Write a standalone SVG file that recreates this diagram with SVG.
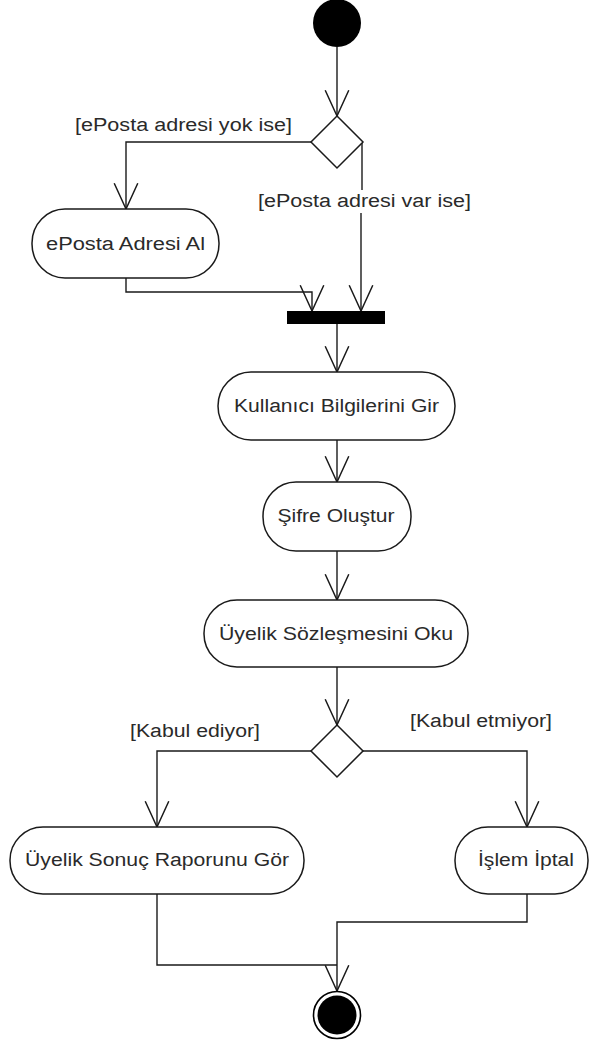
<svg xmlns="http://www.w3.org/2000/svg" width="590" height="1043" viewBox="0 0 590 1043">
<style>
.node{fill:#fff;stroke:#1a1a1a;stroke-width:1.5}
.lbl{font-family:"Liberation Sans",Arial,sans-serif;font-size:18px;fill:#2a2a2a;text-anchor:middle}
.edge{fill:none;stroke:#1a1a1a;stroke-width:1.4}
</style>
<defs>
<marker id="arr" markerUnits="userSpaceOnUse" markerWidth="30" markerHeight="30" viewBox="-26 -13 28 26" refX="0" refY="0" orient="auto">
<path d="M-24,-11 L0,0 L-24,11" fill="none" stroke="#1a1a1a" stroke-width="1.4"/>
</marker>
</defs>
<rect width="590" height="1043" fill="#fff"/>
<g id="connectors">
<path class="edge" d="M337,47 L337,116" marker-end="url(#arr)"/>
<path class="edge" d="M311,142 L126,142 L126,209" marker-end="url(#arr)"/>
<path class="edge" d="M362,142 L362,190"/>
<path class="edge" d="M361,213 L361,311" marker-end="url(#arr)"/>
<path class="edge" d="M126,278 L126,292 L312,292 L312,311" marker-end="url(#arr)"/>
<path class="edge" d="M337,324 L337,372" marker-end="url(#arr)"/>
<path class="edge" d="M337,440 L337,482" marker-end="url(#arr)"/>
<path class="edge" d="M337,551 L337,600" marker-end="url(#arr)"/>
<path class="edge" d="M337,667 L337,725" marker-end="url(#arr)"/>
<path class="edge" d="M311,751 L157,751 L157,827" marker-end="url(#arr)"/>
<path class="edge" d="M363,751 L527,751 L527,827" marker-end="url(#arr)"/>
<path class="edge" d="M157,894 L157,965 L337,965"/>
<path class="edge" d="M527,894 L527,922 L337,922 L337,991" marker-end="url(#arr)"/>
<text class="lbl" x="183.5" y="131" textLength="217" lengthAdjust="spacingAndGlyphs">[ePosta adresi yok ise]</text>
<text class="lbl" x="364.5" y="207" textLength="213" lengthAdjust="spacingAndGlyphs">[ePosta adresi var ise]</text>
<text class="lbl" x="195" y="737" textLength="130" lengthAdjust="spacingAndGlyphs">[Kabul ediyor]</text>
<text class="lbl" x="481" y="727" textLength="142" lengthAdjust="spacingAndGlyphs">[Kabul etmiyor]</text>
</g>
<g id="start"><circle cx="337" cy="23" r="24" fill="#000"/></g>
<g id="decision1"><polygon class="node" points="337,116 363,142 337,168 311,142"/></g>
<g id="ePostaAdresiAl">
<rect class="node" x="32" y="209" width="187" height="69" rx="33" ry="34"/>
<text class="lbl" x="125.5" y="250" textLength="159" lengthAdjust="spacingAndGlyphs">ePosta Adresi Al</text>
</g>
<g id="fork"><rect x="287" y="311" width="98" height="13" fill="#000"/></g>
<g id="kullanici">
<rect class="node" x="218" y="372" width="237" height="68" rx="33" ry="34"/>
<text class="lbl" x="336.5" y="412" textLength="205" lengthAdjust="spacingAndGlyphs">Kullanıcı Bilgilerini Gir</text>
</g>
<g id="sifre">
<rect class="node" x="263" y="482" width="148" height="69" rx="33" ry="34"/>
<text class="lbl" x="336" y="522" textLength="117" lengthAdjust="spacingAndGlyphs">Şifre Oluştur</text>
</g>
<g id="sozlesme">
<rect class="node" x="204" y="600" width="264" height="67" rx="33" ry="33"/>
<text class="lbl" x="336" y="640" textLength="234" lengthAdjust="spacingAndGlyphs">Üyelik Sözleşmesini Oku</text>
</g>
<g id="decision2"><polygon class="node" points="337,725 363,751 337,777 311,751"/></g>
<g id="sonucRaporu">
<rect class="node" x="10" y="827" width="294" height="67" rx="33" ry="33"/>
<text class="lbl" x="157" y="866" textLength="264" lengthAdjust="spacingAndGlyphs">Üyelik Sonuç Raporunu Gör</text>
</g>
<g id="islemIptal">
<rect class="node" x="455" y="827" width="133" height="67" rx="33" ry="33"/>
<text class="lbl" x="526" y="866" textLength="96" lengthAdjust="spacingAndGlyphs">İşlem İptal</text>
</g>
<g id="end">
<circle cx="337" cy="1015" r="23.5" fill="#fff" stroke="#000" stroke-width="1.6"/>
<circle cx="337" cy="1015" r="19.5" fill="#000"/>
</g>
</svg>
